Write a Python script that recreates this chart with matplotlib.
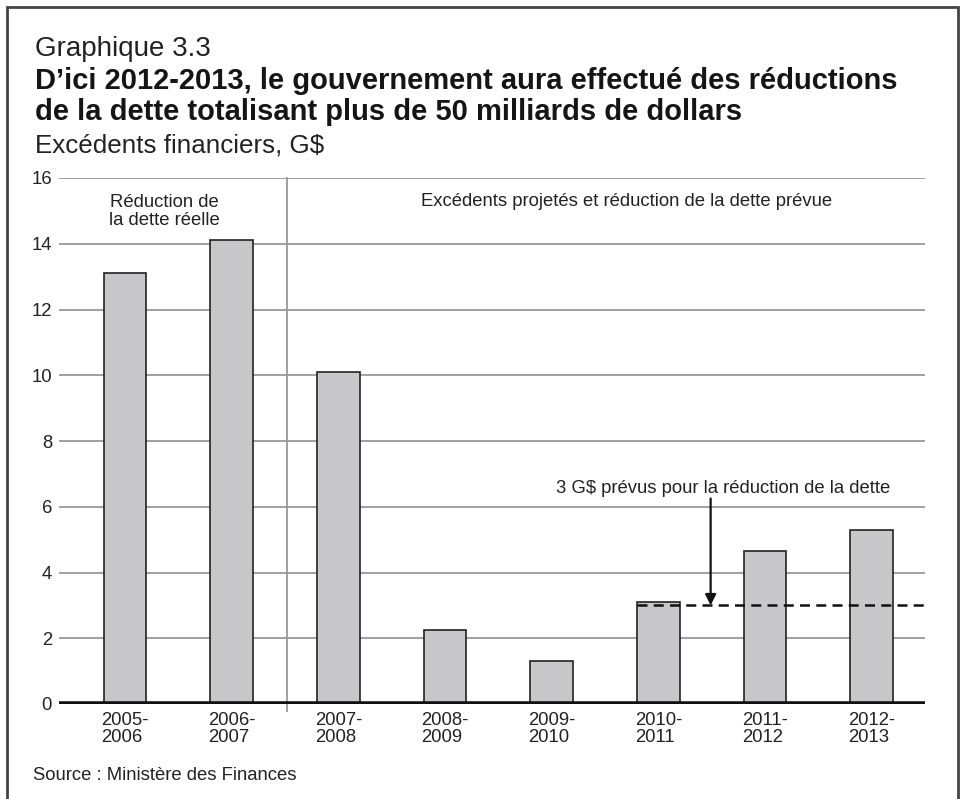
import matplotlib.pyplot as plt
from matplotlib.patches import Rectangle

plt.rcParams['font.family'] = ['Liberation Sans', 'DejaVu Sans']

# données : excédents financiers en milliards de dollars
years = ["2005-\n2006", "2006-\n2007", "2007-\n2008", "2008-\n2009",
         "2009-\n2010", "2010-\n2011", "2011-\n2012", "2012-\n2013"]
surplus = [13.1, 14.1, 10.1, 2.25, 1.3, 3.1, 4.65, 5.3]
debt_target = 3
yticks = [0, 2, 4, 6, 8, 10, 12, 14, 16]

fig = plt.figure(figsize=(9.66, 7.99), dpi=100)

# cadre autour du graphique
fig.patches.append(Rectangle((7 / 966, -0.05), (958 - 7) / 966, 1.05 - 7 / 799,
                             transform=fig.transFigure, fill=False,
                             edgecolor='#444444', linewidth=2))

# titres (positions de ligne de base en pixels depuis le haut)
fig.text(35 / 966, 1 - 56 / 799, "Graphique 3.3", fontsize=20, va='baseline', color='#222222')
fig.text(35 / 966, 1 - 89 / 799, "D’ici 2012-2013, le gouvernement aura effectué des réductions",
         fontsize=21, fontweight='bold', va='baseline', color='#151515')
fig.text(35 / 966, 1 - 120 / 799, "de la dette totalisant plus de 50 milliards de dollars",
         fontsize=21, fontweight='bold', va='baseline', color='#151515')
fig.text(35 / 966, 1 - 153 / 799, "Excédents financiers, G$", fontsize=18.7, va='baseline', color='#222222')
fig.text(33 / 966, 1 - 775 / 799, "Source : Ministère des Finances", fontsize=13.3, va='center', color='#222222')

ax = fig.add_axes([59 / 966, 1 - 704 / 799, (925 - 59) / 966, (704 - 178) / 799])
x = list(range(len(years)))

ax.set_ylim(0, 16)
ax.set_xlim(-0.62, 7.5)
ax.set_yticks(yticks)
for v in yticks[1:]:
    ax.axhline(v, color='#999999', linewidth=1.3, zorder=1)

ax.bar(x, surplus, width=0.4, color='#c8c8ca', edgecolor='#222222', linewidth=1.2, zorder=3)

# séparation entre données réelles et projections
ax.plot([1.52, 1.52], [-0.2, 16], color='#999999', linewidth=1.3, zorder=2, clip_on=False)
ax.axhline(0, color='#111111', linewidth=4, zorder=4)

# réduction de la dette prévue
ax.plot([4.8, 7.52], [debt_target, debt_target], color='#111111', linestyle=(0, (4, 2.5)),
        linewidth=1.8, zorder=5, clip_on=False)
ax.annotate("", xy=(5.49, debt_target), xytext=(5.49, 6.25),
            arrowprops=dict(arrowstyle='-|>', color='#111111', lw=1.6,
                            mutation_scale=16, shrinkA=0, shrinkB=0), zorder=6)
ax.text(5.61, 6.55, "3 G$ prévus pour la réduction de la dette", ha='center', va='center',
        fontsize=13.3, color='#222222', zorder=6)

ax.text(0.37, 14.98, "Réduction de\nla dette réelle", ha='center', va='center',
        fontsize=13.3, color='#222222', linespacing=1.1)
ax.text(4.7, 15.3, "Excédents projetés et réduction de la dette prévue", ha='center',
        va='center', fontsize=13.3, color='#222222')

ax.set_xticks(x)
ax.set_xticklabels(years, fontsize=13.3, color='#222222', multialignment='left', linespacing=0.95)
ax.tick_params(axis='x', length=0, pad=6)
ax.tick_params(axis='y', length=0, pad=5, labelsize=13.3, labelcolor='#222222')
for s in ax.spines.values():
    s.set_visible(False)

fig.savefig("out.png", dpi=100)
